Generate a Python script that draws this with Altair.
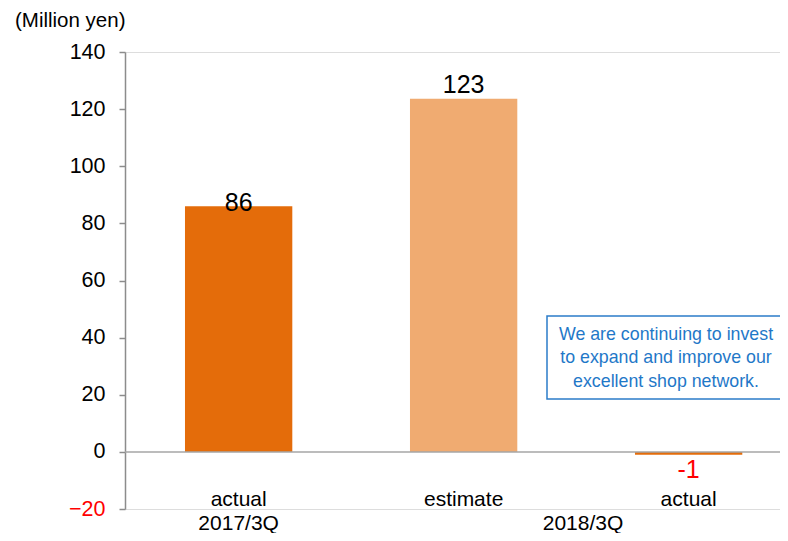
import altair as alt
import pandas as pd

FONT = "Liberation Sans"

categories = ["2017/3Q actual", "2018/3Q estimate", "2018/3Q actual"]
values = [86, 123.6, -1]
value_labels = ["86", "123", "-1"]
sub_labels = ["actual", "estimate", "actual"]
period_labels = ["2017/3Q", "2018/3Q"]
note_lines = ["We are continuing to invest", "to expand and improve our", "excellent shop network."]
y_ticks = [-20, 0, 20, 40, 60, 80, 100, 120, 140]
bar_colors = ["#E46C0A", "#F0AB71", "#E46C0A"]
unit_title = "(Million yen)"

df = pd.DataFrame({
    "cat": categories,
    "value": values,
    "label": value_labels,
    "sub": sub_labels,
    "idx": list(range(len(categories))),
})

xscale = alt.Scale(domain=categories, paddingInner=0.523, paddingOuter=0.2171, align=0.614)
x_enc = alt.X("cat:N", scale=xscale, axis=None)
y_enc = alt.Y(
    "value:Q",
    scale=alt.Scale(domain=[-20, 140], nice=False, zero=False),
    axis=alt.Axis(
        values=y_ticks, title=None, grid=False,
        labelFontSize=21.5, labelFont=FONT, labelPadding=14,
        tickSize=6, tickColor="#8C8C8C", tickWidth=1.5,
        domainColor="#8C8C8C", domainWidth=1.5,
        labelColor=alt.expr("datum.value < 0 ? '#FF0000' : '#000000'"),
    ),
)

base = alt.Chart(df)

bars = base.mark_bar().encode(
    x=x_enc,
    y=y_enc,
    y2=alt.datum(0),
    color=alt.Color("cat:N", scale=alt.Scale(domain=categories, range=bar_colors), legend=None),
)

zero_rule = alt.Chart(pd.DataFrame({"z": [0]})).mark_rule(color="#A6A6A6", strokeWidth=1.5).encode(
    y=alt.Y("z:Q")
)

lab86 = base.transform_filter("datum.idx == 0").mark_text(
    font=FONT, fontSize=25, baseline="middle", dy=-3, color="#000000"
).encode(x=x_enc, y="value:Q", text="label:N")

lab123 = base.transform_filter("datum.idx == 1").mark_text(
    font=FONT, fontSize=25, baseline="middle", dy=-14, color="#000000"
).encode(x=x_enc, y="value:Q", text="label:N")

labneg = base.transform_filter("datum.idx == 2").mark_text(
    font=FONT, fontSize=25, baseline="middle", dy=15, color="#FF0000"
).encode(x=x_enc, y="value:Q", text="label:N")

sub_text = base.mark_text(font=FONT, fontSize=21, baseline="middle", y=448, color="#000000").encode(
    x=x_enc, text="sub:N"
)

period0 = base.transform_filter("datum.idx == 0").mark_text(
    font=FONT, fontSize=21, baseline="middle", y=472, color="#000000"
).encode(x=x_enc, text=alt.value(period_labels[0]))

period1 = alt.Chart(pd.DataFrame({"t": [period_labels[1]]})).mark_text(
    font=FONT, fontSize=21, baseline="middle", color="#000000"
).encode(x=alt.value(458), y=alt.value(472), text="t:N")

title_txt = alt.Chart(pd.DataFrame({"t": [unit_title]})).mark_text(
    font=FONT, fontSize=20.5, align="left", baseline="middle", color="#000000"
).encode(x=alt.value(-110), y=alt.value(-31), text="t:N")

note_box = alt.Chart(pd.DataFrame({"a": [0]})).mark_rect(
    fill="white", stroke="#2B7CC9", strokeWidth=1.5
).encode(x=alt.value(422), x2=alt.value(690), y=alt.value(264), y2=alt.value(347))

note_text = alt.Chart(pd.DataFrame({"t": ["\n".join(note_lines)]})).mark_text(
    font=FONT, fontSize=17.8, align="center", baseline="middle", lineBreak="\n",
    lineHeight=23.3, color="#1F78C8"
).encode(x=alt.value(541), y=alt.value(283), text="t:N")

chart = alt.layer(
    bars, zero_rule, lab86, lab123, labneg, sub_text, period0, period1,
    title_txt, note_box, note_text
).properties(
    width=655, height=457,
    padding={"left": 117, "top": 44, "right": 0, "bottom": 24},
    autosize=alt.AutoSizeParams(type="none"),
).configure_view(stroke=None).configure(background="white")

chart.save("out.html", embed_options={"renderer": "svg", "actions": False})
